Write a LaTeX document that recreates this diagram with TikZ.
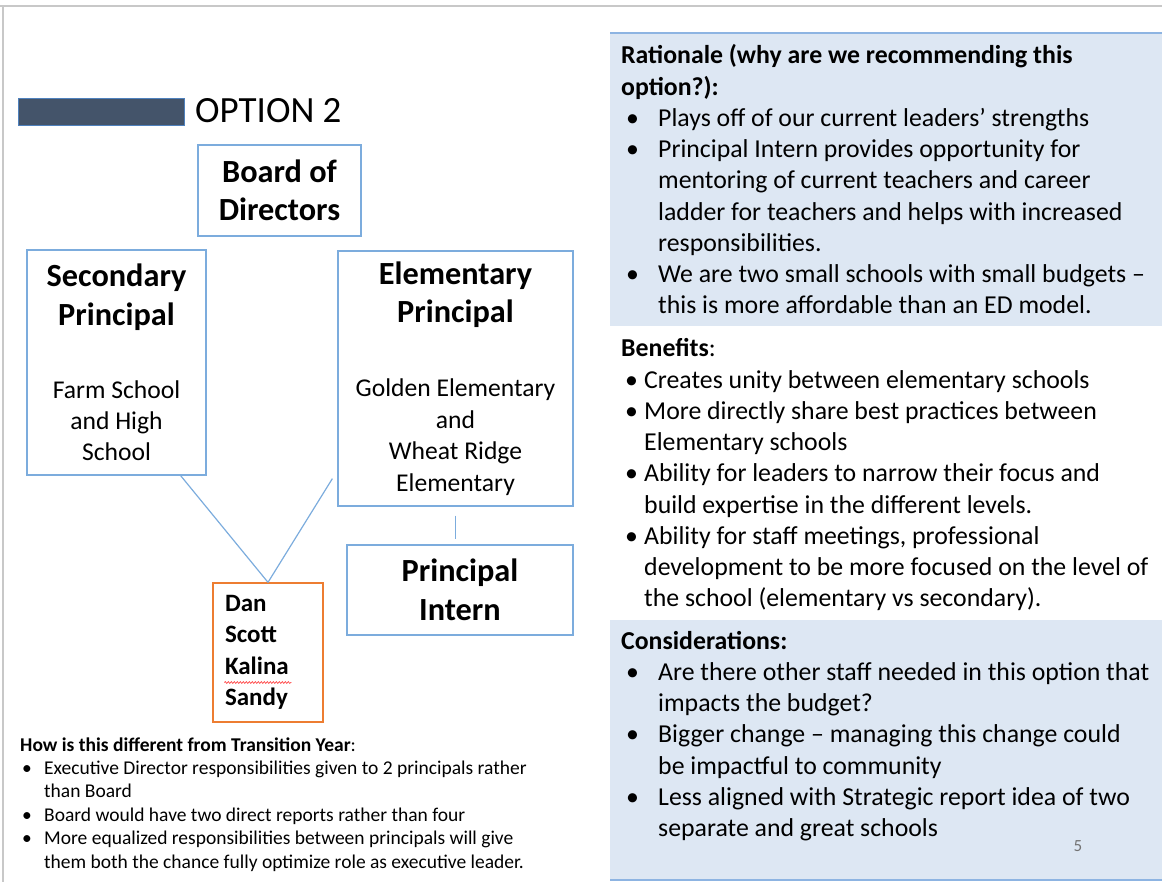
\documentclass[tikz,border=0pt]{standalone}
\usepackage{fontspec}
\setmainfont{Carlito}
\usetikzlibrary{calc}
\usetikzlibrary{positioning}
\usetikzlibrary{decorations.pathmorphing}

\definecolor{boxblue}{RGB}{124,172,221}
\definecolor{boxorange}{RGB}{237,125,49}
\definecolor{barslate}{RGB}{68,84,106}
\definecolor{barline}{RGB}{79,129,189}
\definecolor{panelfill}{RGB}{221,231,243}
\definecolor{panelline}{RGB}{141,180,226}
\definecolor{framegray}{RGB}{200,200,200}

% bullet at #1, text starting at #2
\newcommand{\listbullet}[2]{\hspace*{#1}\makebox[\dimexpr#2-#1\relax][l]{\textbullet}}
\newcommand{\listcont}[1]{\hspace*{#1}}
\newcommand{\headfont}{\fontsize{32.3}{38.5}\selectfont\bfseries}
\newcommand{\bodyfont}{\fontsize{25.6}{31.4}\selectfont\mdseries}
\newcommand{\plainspaces}{\spaceskip=0pt\xspaceskip=0pt\relax}

\begin{document}
\begin{tikzpicture}[
    x=1pt, y=-1pt,
    orgbox/.style={draw=boxblue, line width=1.3pt, inner sep=0pt, font=\headfont,
        execute at begin node={\centering\plainspaces}},
    namebox/.style={draw=boxorange, line width=1.3pt, inner xsep=12pt, inner ysep=0pt,
        font=\fontsize{25}{31.3}\selectfont\bfseries, execute at begin node={\raggedright\plainspaces}},
    link/.style={draw=boxblue, line width=1.2pt},
    paneltext/.style={inner sep=0pt, text width=560pt,
        font=\fontsize{25.8}{31.25}\selectfont, execute at begin node={\raggedright\plainspaces}},
    notetext/.style={inner sep=0pt, text width=560pt,
        font=\fontsize{19.5}{23.4}\selectfont, execute at begin node={\raggedright\plainspaces}}]

    \useasboundingbox (0,0) rectangle (1162,882);

    % page frame
    \draw[framegray, line width=1.5pt] (0,6) -- (1162,6);
    \draw[framegray, line width=1.5pt] (3,6) -- (3,882);

    % option heading
    \draw[fill=barslate, draw=barline, line width=0.8pt] (18,98) rectangle (184,125);
    \node[inner sep=0pt, anchor=base west, font=\fontsize{37}{44}\selectfont] (option) at (195,123) {OPTION 2};

    % org chart
    \node[orgbox, text width=163pt, minimum height=91pt] (board) at (279.5,190.5)
        {Board of\\Directors};
    \node[orgbox, text width=179pt, minimum height=225pt] (sec) at (116.5,362.5)
        {Secondary\\Principal\par\vspace{41.5pt}\bodyfont Farm School\\and High\\School\par};
    \node[orgbox, text width=235pt, minimum height=255pt] (elem) at (455.5,378.5)
        {Elementary\\Principal\par\vspace{42.5pt}\bodyfont Golden Elementary\\and\\Wheat Ridge\\Elementary\par};
    \node[orgbox, text width=226pt, minimum height=90pt] (intern) at (460,590)
        {Principal\\Intern};
    \node[namebox, text width=86pt, minimum height=139pt] (names) at (268,652.5)
        {Dan\\Scott\\Kalina\\Sandy};

    % connectors
    \draw[link] ([xshift=-26pt]sec.south east) -- (names.north);
    \draw[link] ([xshift=-5pt, yshift=28pt]elem.south west) -- (names.north);
    \draw[link] ([yshift=-9pt]elem.south) -- ([yshift=5pt]elem.south |- intern.north);

    % spelling mark
    \draw[red!80, line width=0.6pt, decorate, decoration={snake, amplitude=0.9pt, segment length=3pt}]
        ($(names.west)+(12,30)$) -- ++(67,0);

    % note under the chart
    \node[notetext, anchor=base west] (diff) at (20,751) {%
        \textbf{How is this different from Transition Year}:\\
        \listbullet{2pt}{24pt}Executive Director responsibilities given to 2 principals rather\\
        \listcont{24pt}than Board\\
        \listbullet{2pt}{24pt}Board would have two direct reports rather than four\\
        \listbullet{2pt}{24pt}More equalized responsibilities between principals will give\\
        \listcont{24pt}them both the chance fully optimize role as executive leader.};

    % right panel
    \fill[panelfill] (610,33) rectangle (1162,326);
    \draw[panelline, line width=2.5pt] (610,33) -- (1162,33);
    \fill[panelfill] (610,620) rectangle (1162,880);
    \draw[panelline, line width=2pt] (610,880) -- (1162,880);

    \node[paneltext, anchor=base west] (rationale) at (621,64) {%
        \textbf{Rationale (why are we recommending this}\\
        \textbf{option?):}\\
        \listbullet{5pt}{37pt}Plays off of our current leaders’ strengths\\
        \listbullet{5pt}{37pt}Principal Intern provides opportunity for\\
        \listcont{37pt}mentoring of current teachers and career\\
        \listcont{37pt}ladder for teachers and helps with increased\\
        \listcont{37pt}responsibilities.\\
        \listbullet{5pt}{37pt}We are two small schools with small budgets –\\
        \listcont{37pt}this is more affordable than an ED model.};

    \node[paneltext, anchor=base west] (benefits) at (621,357) {%
        \textbf{Benefits}:\\
        \listbullet{4pt}{23pt}Creates unity between elementary schools\\
        \listbullet{4pt}{23pt}More directly share best practices between\\
        \listcont{23pt}Elementary schools\\
        \listbullet{4pt}{23pt}Ability for leaders to narrow their focus and\\
        \listcont{23pt}build expertise in the different levels.\\
        \listbullet{4pt}{23pt}Ability for staff meetings, professional\\
        \listcont{23pt}development to be more focused on the level of\\
        \listcont{23pt}the school (elementary vs secondary).};

    \node[paneltext, anchor=base west] (considerations) at (621,649) {%
        \textbf{Considerations:}\\
        \listbullet{5pt}{37pt}Are there other staff needed in this option that\\
        \listcont{37pt}impacts the budget?\\
        \listbullet{5pt}{37pt}Bigger change – managing this change could\\
        \listcont{37pt}be impactful to community\\
        \listbullet{5pt}{37pt}Less aligned with Strategic report idea of two\\
        \listcont{37pt}separate and great schools};

    \node[inner sep=0pt, text=black!55, font=\fontsize{17}{20}\selectfont] (pagenum) at (1078,846) {5};

\end{tikzpicture}
\end{document}
